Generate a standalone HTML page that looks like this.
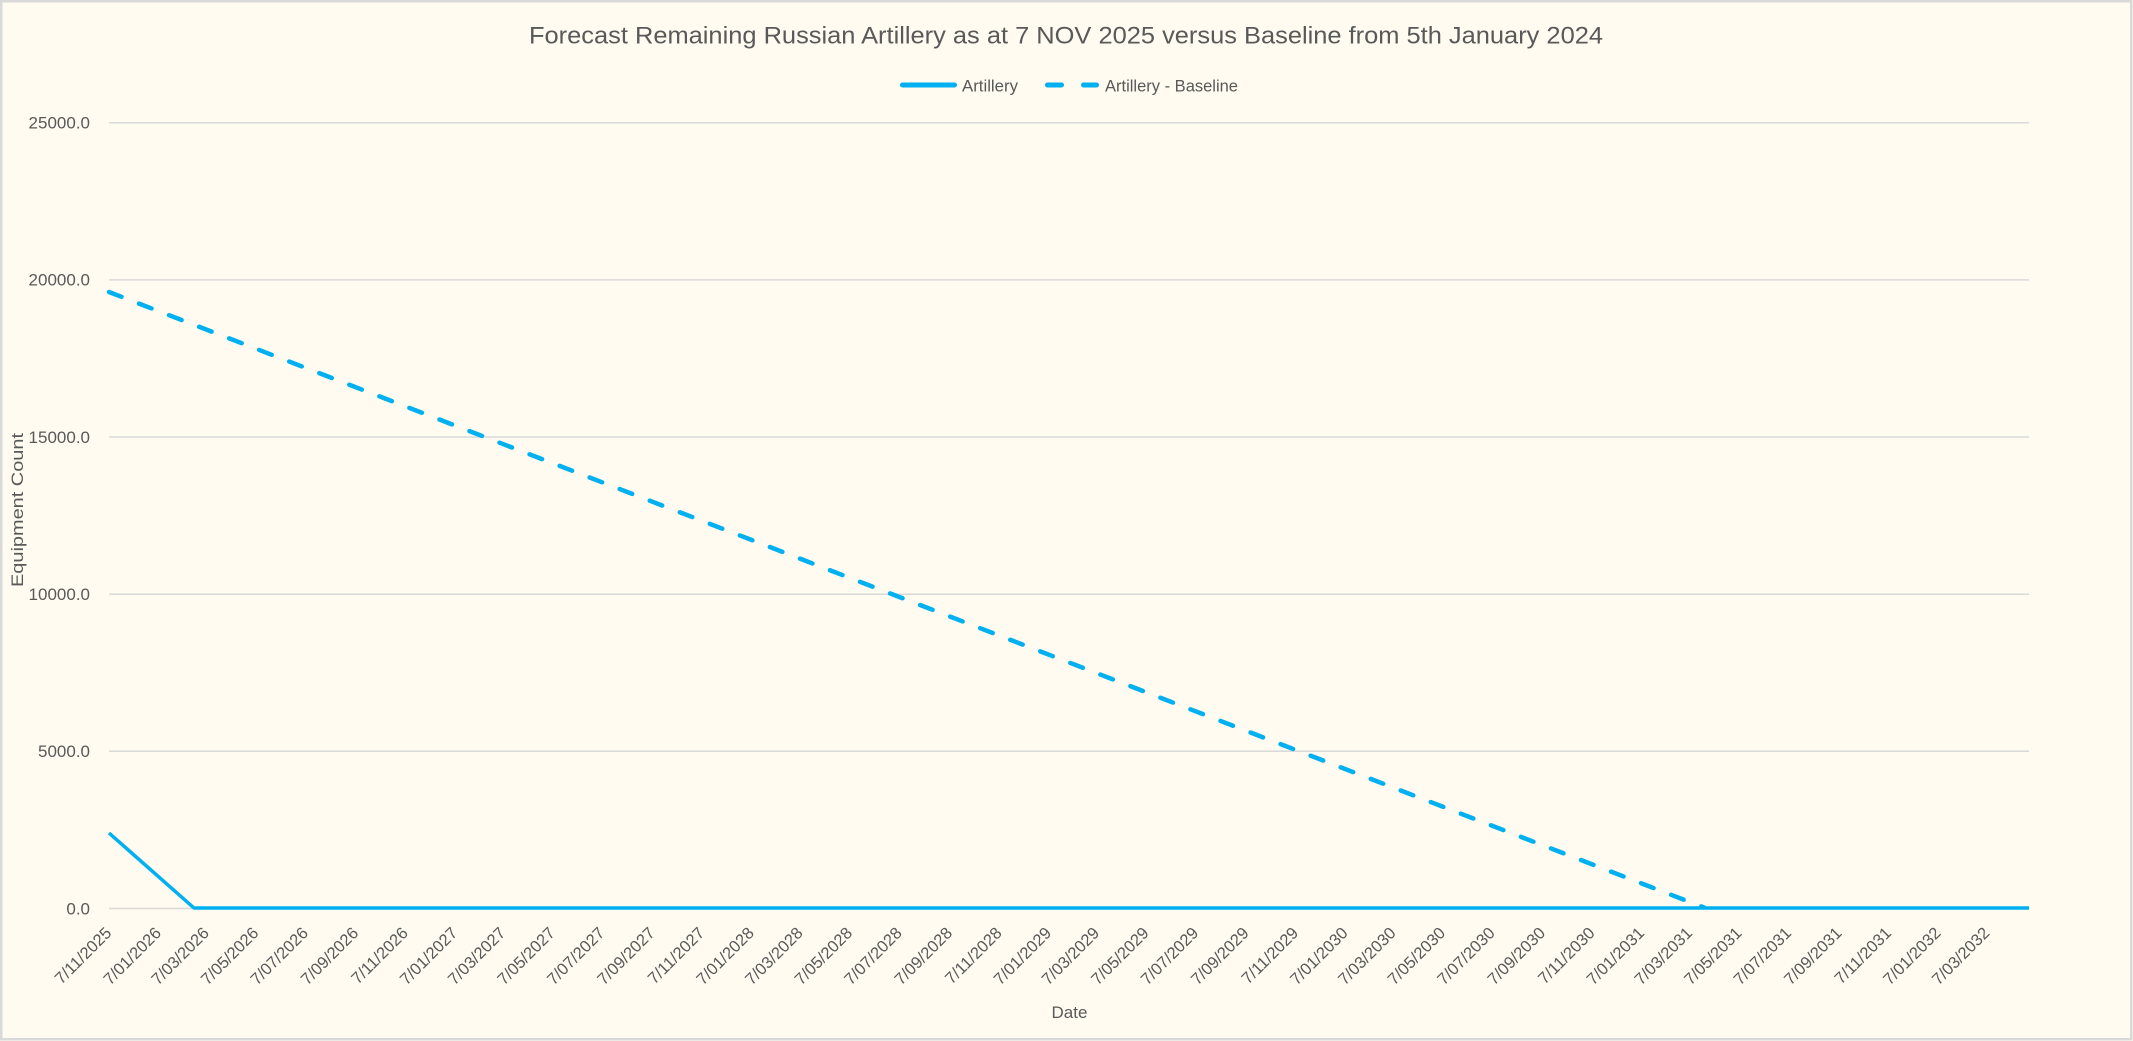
<!DOCTYPE html>
<html>
<head>
<meta charset="utf-8">
<style>
html,body{margin:0;padding:0;background:#FFFBF0;}
svg{display:block;}
text{font-family:"Liberation Sans",Arial,sans-serif;fill:#595959;}
</style>
</head>
<body>
<svg width="2133" height="1041" viewBox="0 0 2133 1041" xmlns="http://www.w3.org/2000/svg">
<rect x="0" y="0" width="2133" height="1041" fill="#FFFBF0"/>
<rect x="1.25" y="1.25" width="2130" height="1038" fill="none" stroke="#D9D9D9" stroke-width="2.5"/>

<!-- Title -->
<text x="529" y="43.3" font-size="24" textLength="1074" lengthAdjust="spacingAndGlyphs">Forecast Remaining Russian Artillery as at 7 NOV 2025 versus Baseline from 5th January 2024</text>

<!-- Legend -->
<line x1="902.5" y1="85" x2="954.5" y2="85" stroke="#00B0F0" stroke-width="5" stroke-linecap="round"/>
<text x="962" y="91.5" font-size="17" textLength="56" lengthAdjust="spacingAndGlyphs">Artillery</text>
<line x1="1047.5" y1="85" x2="1061.5" y2="85" stroke="#00B0F0" stroke-width="5" stroke-linecap="round"/>
<line x1="1083.5" y1="85" x2="1096.5" y2="85" stroke="#00B0F0" stroke-width="5" stroke-linecap="round"/>
<text x="1105" y="91.5" font-size="17" textLength="133" lengthAdjust="spacingAndGlyphs">Artillery - Baseline</text>

<!-- Gridlines -->
<g stroke="#D9D9D9" stroke-width="1.5">
<line x1="109" y1="122.7" x2="2029" y2="122.7"/>
<line x1="109" y1="279.9" x2="2029" y2="279.9"/>
<line x1="109" y1="437.0" x2="2029" y2="437.0"/>
<line x1="109" y1="594.2" x2="2029" y2="594.2"/>
<line x1="109" y1="751.3" x2="2029" y2="751.3"/>
<line x1="109" y1="908.5" x2="2029" y2="908.5"/>
</g>

<!-- Y tick labels -->
<g font-size="17" text-anchor="end">
<text x="90" y="128.5">25000.0</text>
<text x="90" y="285.7">20000.0</text>
<text x="90" y="442.8">15000.0</text>
<text x="90" y="600.0">10000.0</text>
<text x="90" y="757.1">5000.0</text>
<text x="90" y="914.3">0.0</text>
</g>

<!-- Y axis title -->
<text transform="translate(23,510) rotate(-90)" font-size="17" text-anchor="middle" textLength="154" lengthAdjust="spacingAndGlyphs">Equipment Count</text>

<!-- X axis title -->
<text x="1069.5" y="1018" font-size="17" text-anchor="middle">Date</text>

<!-- Series: Artillery (solid) -->
<polyline points="109,833 194,908 2029,908" fill="none" stroke="#00B0F0" stroke-width="3.5" stroke-linejoin="round"/>

<!-- Series: Artillery - Baseline (dashed) -->
<line x1="109" y1="292" x2="1704" y2="907.5" stroke="#00B0F0" stroke-width="4.5" stroke-linecap="round" stroke-dasharray="13.4 18.8"/>

<!-- X tick labels -->
<g font-size="16.5" text-anchor="end">
<text transform="translate(112.5,934) rotate(-45)">7/11/2025</text>
<text transform="translate(162.1,934) rotate(-45)">7/01/2026</text>
<text transform="translate(210.0,934) rotate(-45)">7/03/2026</text>
<text transform="translate(259.5,934) rotate(-45)">7/05/2026</text>
<text transform="translate(309.1,934) rotate(-45)">7/07/2026</text>
<text transform="translate(359.4,934) rotate(-45)">7/09/2026</text>
<text transform="translate(409.0,934) rotate(-45)">7/11/2026</text>
<text transform="translate(458.5,934) rotate(-45)">7/01/2027</text>
<text transform="translate(506.5,934) rotate(-45)">7/03/2027</text>
<text transform="translate(556.0,934) rotate(-45)">7/05/2027</text>
<text transform="translate(605.6,934) rotate(-45)">7/07/2027</text>
<text transform="translate(655.9,934) rotate(-45)">7/09/2027</text>
<text transform="translate(705.5,934) rotate(-45)">7/11/2027</text>
<text transform="translate(755.0,934) rotate(-45)">7/01/2028</text>
<text transform="translate(803.8,934) rotate(-45)">7/03/2028</text>
<text transform="translate(853.3,934) rotate(-45)">7/05/2028</text>
<text transform="translate(902.9,934) rotate(-45)">7/07/2028</text>
<text transform="translate(953.2,934) rotate(-45)">7/09/2028</text>
<text transform="translate(1002.8,934) rotate(-45)">7/11/2028</text>
<text transform="translate(1052.3,934) rotate(-45)">7/01/2029</text>
<text transform="translate(1100.3,934) rotate(-45)">7/03/2029</text>
<text transform="translate(1149.8,934) rotate(-45)">7/05/2029</text>
<text transform="translate(1199.4,934) rotate(-45)">7/07/2029</text>
<text transform="translate(1249.7,934) rotate(-45)">7/09/2029</text>
<text transform="translate(1299.3,934) rotate(-45)">7/11/2029</text>
<text transform="translate(1348.8,934) rotate(-45)">7/01/2030</text>
<text transform="translate(1396.8,934) rotate(-45)">7/03/2030</text>
<text transform="translate(1446.3,934) rotate(-45)">7/05/2030</text>
<text transform="translate(1495.9,934) rotate(-45)">7/07/2030</text>
<text transform="translate(1546.2,934) rotate(-45)">7/09/2030</text>
<text transform="translate(1595.8,934) rotate(-45)">7/11/2030</text>
<text transform="translate(1645.3,934) rotate(-45)">7/01/2031</text>
<text transform="translate(1693.2,934) rotate(-45)">7/03/2031</text>
<text transform="translate(1742.8,934) rotate(-45)">7/05/2031</text>
<text transform="translate(1792.3,934) rotate(-45)">7/07/2031</text>
<text transform="translate(1842.7,934) rotate(-45)">7/09/2031</text>
<text transform="translate(1892.3,934) rotate(-45)">7/11/2031</text>
<text transform="translate(1941.8,934) rotate(-45)">7/01/2032</text>
<text transform="translate(1990.5,934) rotate(-45)">7/03/2032</text>
</g>
</svg>
</body>
</html>
